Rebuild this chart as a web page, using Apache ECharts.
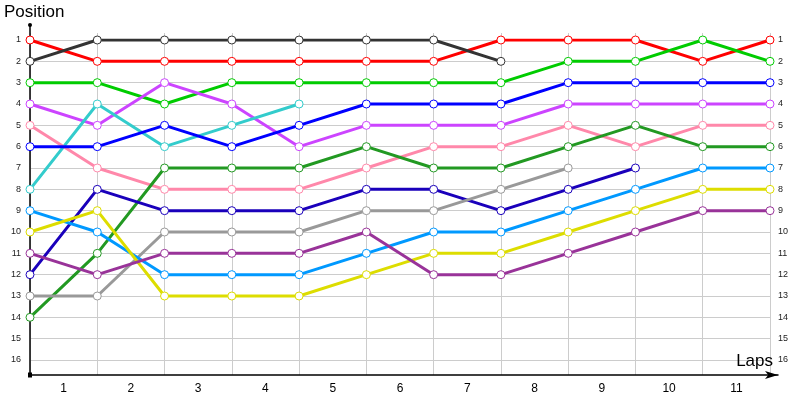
<!DOCTYPE html>
<html>
<head>
<meta charset="utf-8">
<script src="https://cdn.jsdelivr.net/npm/echarts@6/dist/echarts.min.js"></script>
<style>
  html, body { margin: 0; padding: 0; background: #fff; }
  #chart { width: 800px; height: 400px; }
</style>
</head>
<body>
<div id="chart"></div>
<script>
const lapLabels = ['1','2','3','4','5','6','7','8','9','10','11'];
const red       = [1, 2, 2, 2, 2, 2, 2, 1, 1, 1, 2, 1];
const darkGray  = [2, 1, 1, 1, 1, 1, 1, 2];
const green     = [3, 3, 4, 3, 3, 3, 3, 3, 2, 2, 1, 2];
const violet    = [4, 5, 3, 4, 6, 5, 5, 5, 4, 4, 4, 4];
const cyan      = [8, 4, 6, 5, 4];
const pink      = [5, 7, 8, 8, 8, 7, 6, 6, 5, 6, 5, 5];
const blue      = [6, 6, 5, 6, 5, 4, 4, 4, 3, 3, 3, 3];
const darkGreen = [14, 11, 7, 7, 7, 6, 7, 7, 6, 5, 6, 6];
const navy      = [12, 8, 9, 9, 9, 8, 8, 9, 8, 7];
const gray      = [13, 13, 10, 10, 10, 9, 9, 8, 7];
const skyBlue   = [9, 10, 12, 12, 12, 11, 10, 10, 9, 8, 7, 7];
const yellow    = [10, 9, 13, 13, 13, 12, 11, 11, 10, 9, 8, 8];
const plum      = [11, 12, 11, 11, 11, 10, 12, 12, 11, 10, 9, 9];

const seriesDefs = [
  { name: 'A', data: red,       color: '#ff0000' },
  { name: 'B', data: darkGray,  color: '#333333' },
  { name: 'C', data: green,     color: '#00cc00' },
  { name: 'D', data: violet,    color: '#cc44ff' },
  { name: 'E', data: cyan,      color: '#33cccc' },
  { name: 'F', data: pink,      color: '#ff88aa' },
  { name: 'G', data: blue,      color: '#0000ff' },
  { name: 'H', data: darkGreen, color: '#229922' },
  { name: 'I', data: navy,      color: '#1a00bb' },
  { name: 'J', data: gray,      color: '#999999' },
  { name: 'K', data: skyBlue,   color: '#0099ff' },
  { name: 'L', data: yellow,    color: '#dddd00' },
  { name: 'M', data: plum,      color: '#993399' }
];

const FONT = '"Liberation Sans", Arial, sans-serif';
const hidden = { show: false };

const chart = echarts.init(document.getElementById('chart'), null, { renderer: 'canvas' });
chart.setOption({
  animation: false,
  backgroundColor: '#ffffff',
  title: [
    { text: 'Position', left: 4, top: 4, padding: 0,
      textStyle: { fontFamily: FONT, fontSize: 17, fontWeight: 'normal', color: '#000' } },
    { text: 'Laps', right: 27, top: 353, padding: 0,
      textStyle: { fontFamily: FONT, fontSize: 17, fontWeight: 'normal', color: '#000' } }
  ],
  grid: [
    { left: 30, right: 30, top: 40, bottom: 40 },   // data
    { left: 30, right: 30, top: 33, bottom: 25 },   // vertical grid lines
    { left: 30, right: 30, top: 33, bottom: 25 },   // lap labels
    { left: 30, right: 22, top: 25, bottom: 25 }    // axis lines
  ],
  xAxis: [
    { gridIndex: 0, type: 'value', min: 0, max: 11, interval: 1,
      axisLine: hidden, axisTick: hidden, axisLabel: hidden, splitLine: hidden },
    { gridIndex: 1, type: 'value', min: 0, max: 11, interval: 1,
      axisLine: hidden, axisTick: hidden, axisLabel: hidden,
      splitLine: { show: true, lineStyle: { color: '#cccccc', width: 1 } } },
    { gridIndex: 2, type: 'category', data: lapLabels, boundaryGap: true,
      axisLine: hidden, axisTick: hidden, splitLine: hidden,
      axisLabel: { show: true, margin: 8, fontFamily: FONT, fontSize: 12, color: '#000' } },
    { gridIndex: 3, type: 'value', min: 0, max: 1,
      axisLine: { show: true, onZero: false, symbol: ['none', 'arrow'], symbolSize: [6, 13],
        lineStyle: { color: '#000', width: 1.5 } },
      axisTick: hidden, axisLabel: hidden, splitLine: hidden }
  ],
  yAxis: [
    { gridIndex: 0, type: 'value', inverse: true, min: 1, max: 16, interval: 1,
      axisLine: hidden, axisTick: hidden,
      axisLabel: { show: true, margin: 9, fontFamily: FONT, fontSize: 9, color: '#222' },
      splitLine: { show: true, lineStyle: { color: '#cccccc', width: 1 } } },
    { gridIndex: 0, type: 'value', inverse: true, min: 1, max: 16, interval: 1, position: 'right',
      axisLine: hidden, axisTick: hidden, splitLine: hidden,
      axisLabel: { show: true, margin: 8, fontFamily: FONT, fontSize: 9, color: '#222' } },
    { gridIndex: 1, type: 'value', show: false },
    { gridIndex: 2, type: 'value', show: false },
    { gridIndex: 3, type: 'value', min: 0, max: 1,
      axisLine: { show: true, onZero: false, symbol: ['rect', 'circle'], symbolSize: [4, 5],
        lineStyle: { color: '#000', width: 1.5 } },
      axisTick: hidden, axisLabel: hidden, splitLine: hidden }
  ],
  series: seriesDefs.map(s => ({
    name: s.name,
    type: 'line',
    xAxisIndex: 0,
    yAxisIndex: 0,
    data: s.data.map((v, i) => [i, v]),
    symbol: 'circle',
    symbolSize: 8,
    showSymbol: true,
    lineStyle: { color: s.color, width: 3 },
    itemStyle: { color: '#ffffff', borderColor: s.color, borderWidth: 1 },
    emphasis: { disabled: true }
  }))
});
</script>
</body>
</html>
